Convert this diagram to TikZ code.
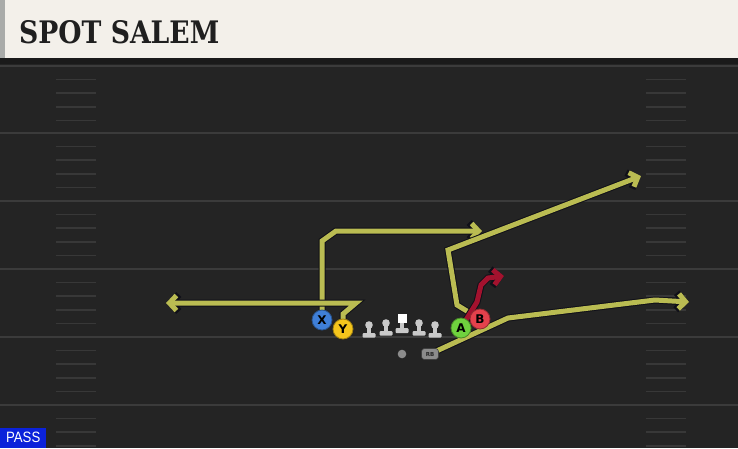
\documentclass[tikz,border=0pt]{standalone}
\usepackage{fontspec}
\setmainfont{Liberation Sans}
\newfontfamily\titlefont{DejaVu Serif}
\newfontfamily\letterfont{DejaVu Sans}
\usetikzlibrary{arrows.meta}
\definecolor{fieldbg}{HTML}{242424}
\definecolor{cream}{HTML}{F3F0EA}
\definecolor{stripgrey}{HTML}{A9ABA9}
\definecolor{darkband}{HTML}{1A1A1A}
\definecolor{fieldline}{HTML}{3B3B3B}
\definecolor{hashline}{HTML}{383838}
\definecolor{routeY}{HTML}{BABC52}
\definecolor{routeR}{HTML}{A3122E}
\definecolor{outline}{HTML}{101018}
\definecolor{pblue}{HTML}{3F7FD8}
\definecolor{pyellow}{HTML}{F4C51C}
\definecolor{pgreen}{HTML}{6FD23E}
\definecolor{pred}{HTML}{E5414C}
\definecolor{lineman}{HTML}{C9C9C9}
\definecolor{passblue}{HTML}{0B22DA}
\tikzset{
  yard/.style={draw=fieldline, line width=2pt},
  hashmark/.style={draw=hashline, line width=1.5pt},
  routeout/.style={draw=outline, line width=7pt, line join=miter,
    -{Straight Barb[length=8pt,width=17pt]}},
  routein/.style={draw=#1, line width=5pt, line join=miter,
    -{Straight Barb[length=7pt,width=15pt]}},
  player/.style={circle, minimum size=20pt, inner sep=0pt, draw=#1!65!black,
    line width=0.8pt, fill=#1, font=\letterfont\bfseries\fontsize{12}{12}\selectfont, text=black},
}
\newcommand\playroute[2]{\draw[routeout] #2; \draw[routein=#1] #2;}
\begin{document}
\begin{tikzpicture}[x=1pt,y=-1pt]
\useasboundingbox (0,0) rectangle (738,448);
\fill[fieldbg] (0,0) rectangle (738,448);
% header
\fill[darkband] (0,56) rectangle (738,64);
\fill[cream] (0,0) rectangle (738,58);
\fill[stripgrey] (0,0) rectangle (5,58);
\node[anchor=west, inner sep=0pt, text=black!88, xscale=0.86] (title) at (19,32)
  {\titlefont\bfseries\fontsize{31}{31}\selectfont SPOT SALEM};
% yard lines
\foreach \yy in {66,133,201,269,337,405} {
  \draw[yard] (0,\yy) -- (738,\yy);
  \foreach \k in {1,2,3,4} {
    \pgfmathsetmacro\hy{\yy+13.6*\k}
    \draw[hashmark] (56,\hy) -- (96,\hy);
    \draw[hashmark] (646,\hy) -- (686,\hy);
  }
}
% player positions
\coordinate (Xp) at (322,320);
\coordinate (Yp) at (343,329);
\coordinate (Ap) at (461,328);
\coordinate (Bp) at (480,319);
\coordinate (RBp) at (430,354);
% route end points
\coordinate (xe) at (482,231);
\coordinate (ye) at (166,303);
\coordinate (be) at (641,176);
\coordinate (ae) at (504,276);
\coordinate (rbe) at (689,302);
% routes
\playroute{routeY}{(Xp) -- (322,241) -- (336,231) -- (xe)}
\playroute{routeY}{(Yp) -- (343,314) -- (356,303) -- (ye)}
\playroute{routeY}{(Bp) -- (457,305) -- (448,250) -- (be)}
\playroute{routeY}{(RBp) -- (508,318) -- (655,300) -- (rbe)}
\playroute{routeR}{(Ap) -- (477,302) -- (481,285) -- (488,278) -- (ae)}
% linemen
\foreach \lx/\hy/\by in {369/325/333, 386/323/331, 419/323/331, 435/325/333} {
  \fill[lineman] (\lx-2.4,\hy) rectangle (\lx+2.4,\by);
  \fill[lineman, rounded corners=1pt] (\lx-6.5,\by) rectangle (\lx+6.5,\by+4.5);
  \fill[lineman] (\lx,\hy) circle (3.8pt);
}
\fill[lineman] (400,322) rectangle (404,329);
\fill[lineman, rounded corners=1pt] (395.5,328) rectangle (408.5,333);
\fill[white] (398,314) rectangle (407,323);
% QB, RB
\fill[black!45] (402,354) circle (4.3pt);
\node[fill=black!45, draw=black!75, line width=0.6pt, rounded corners=3pt,
  minimum width=17pt, minimum height=11pt, inner sep=0pt,
  font=\letterfont\bfseries\fontsize{5.5}{5.5}\selectfont, text=black!85] (RB) at (RBp) {RB};
% skill players
\node[player=pblue] (X) at (Xp) {X};
\node[player=pyellow] (Y) at (Yp) {Y};
\node[player=pgreen] (A) at (Ap) {A};
\node[player=pred] (B) at (Bp) {B};
% PASS tag
\node[fill=passblue, text=white, anchor=south west, minimum width=46pt, minimum height=20pt,
  inner sep=0pt, font=\fontsize{15}{15}\selectfont] (pass) at (0,448) {\scalebox{0.88}[1]{PASS}};
\end{tikzpicture}
\end{document}
